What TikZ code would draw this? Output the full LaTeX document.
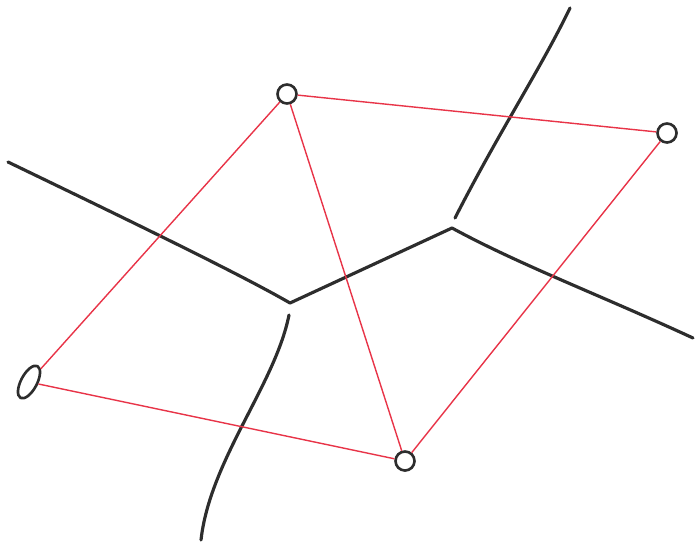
\documentclass[tikz,border=0pt]{standalone}
\usetikzlibrary{calc,shapes.geometric}
\definecolor{pen}{RGB}{45,45,45}
\definecolor{redpen}{RGB}{232,52,72}
\tikzset{
  site/.style={circle,draw=pen,line width=1.5pt,minimum size=0.38cm,inner sep=0pt},
  cell/.style={pen,line width=1.8pt,line cap=round},
  dual/.style={redpen,line width=0.8pt}
}

\begin{document}
\begin{tikzpicture}[x=0.02cm,y=-0.02cm]
  \useasboundingbox(0,0)rectangle(695,545);
  % sites
  \node[site](top)at(287,94){};
  \node[site](right)at(667,133){};
  \node[site,ellipse,minimum width=0.32cm,minimum height=0.72cm,rotate=-28](left)at(29,382){};
  \node[site](bottom)at(405,461){};
  % voronoi vertices and open ends
  \coordinate(v1)at(290,303);
  \coordinate(v2)at(452,228);
  \coordinate(nw)at(8,162);
  \coordinate(ne)at(570,8);
  \coordinate(se)at(693,338);
  \coordinate(sw)at(201,540);
  % voronoi edges
  \draw[cell](v1)--(v2);
  \draw[cell](nw)..controls(120,216)and(240,274)..(v1);
  \draw[cell]($(v1)+(-1,12)$)..controls(275,385)and(210,460)..(sw);
  \draw[cell]($(v2)+(3,-10)$)..controls(500,130)and(540,70)..(ne);
  \draw[cell](v2)..controls(520,265)and(600,295)..(se);
  % delaunay edges
  \draw[dual](top)--(right);
  \draw[dual](top)--(left);
  \draw[dual](top)--(bottom);
  \draw[dual](right)--(bottom);
  \draw[dual](left)--(bottom);
\end{tikzpicture}
\end{document}
